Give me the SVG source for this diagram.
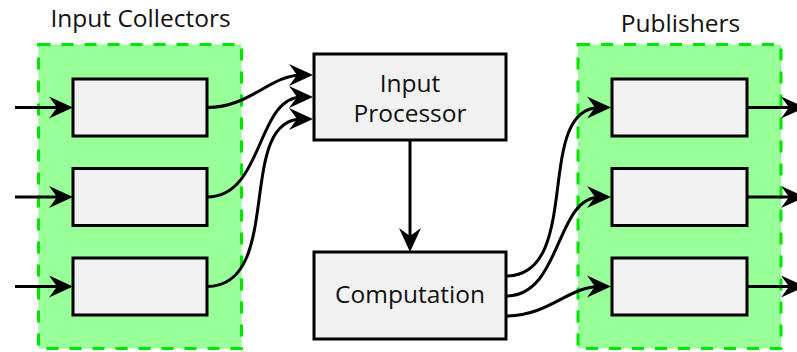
<svg xmlns="http://www.w3.org/2000/svg" width="797" height="352" viewBox="0 0 797 352">
<style>
.grp{fill:#99ff99;stroke:#00e600;stroke-width:3;stroke-dasharray:12 11}
.box{fill:#f1f1f1;stroke:#000;stroke-width:3}
.lbl{font-family:"Open Sans","DejaVu Sans",sans-serif;font-size:24.5px;fill:#111;text-anchor:middle}
.edge{fill:none;stroke:#000;stroke-width:3;marker-end:url(#ah)}
</style>
<defs>
<marker id="ah" markerUnits="userSpaceOnUse" markerWidth="26" markerHeight="24" viewBox="0 0 26 24" refX="13" refY="12" orient="auto" overflow="visible">
<path d="M0,1 L24,12 L0,23 L8,12 Z" fill="#000"/>
</marker>
</defs>
<g id="input-collectors">
<rect class="grp" x="38.5" y="44.5" width="203" height="304"/>
<text class="lbl" x="140.5" y="27">Input Collectors</text>
</g>
<g id="publishers">
<rect class="grp" x="578" y="44.5" width="203" height="304"/>
<text class="lbl" x="680.5" y="32">Publishers</text>
</g>
<g id="collector1"><rect class="box" x="73" y="79" width="134" height="57"/></g>
<g id="collector2"><rect class="box" x="73" y="168.5" width="134" height="57"/></g>
<g id="collector3"><rect class="box" x="73" y="258" width="134" height="57"/></g>
<g id="publisher1"><rect class="box" x="612" y="79" width="135" height="57"/></g>
<g id="publisher2"><rect class="box" x="612" y="168.5" width="135" height="57"/></g>
<g id="publisher3"><rect class="box" x="612" y="258" width="135" height="57"/></g>
<g id="input-processor">
<rect class="box" x="314" y="54" width="192" height="86"/>
<text class="lbl" x="410" y="92">Input</text>
<text class="lbl" x="410" y="122">Processor</text>
</g>
<g id="computation">
<rect class="box" x="314" y="252" width="192" height="87"/>
<text class="lbl" x="410" y="303">Computation</text>
</g>
<g id="connectors">
<path class="edge" d="M15,107.5 H62"/>
<path class="edge" d="M15,197 H62"/>
<path class="edge" d="M15,286.5 H62"/>
<path class="edge" d="M747,107.5 H794"/>
<path class="edge" d="M747,197 H794"/>
<path class="edge" d="M747,286.5 H794"/>
<path class="edge" d="M410,140 V241"/>
<path class="edge" d="M207,107.5 C250,107.5 270,75 302,75"/>
<path class="edge" d="M207,197 C264,197 256,97 302,97"/>
<path class="edge" d="M207,286.5 C285,286.5 235,119 302,119"/>
<path class="edge" d="M506,276 C584,276 533,107.5 600,107.5"/>
<path class="edge" d="M506,296 C562,296 555,197 600,197"/>
<path class="edge" d="M506,316 C549,316 568,286.5 600,286.5"/>
</g>
</svg>
